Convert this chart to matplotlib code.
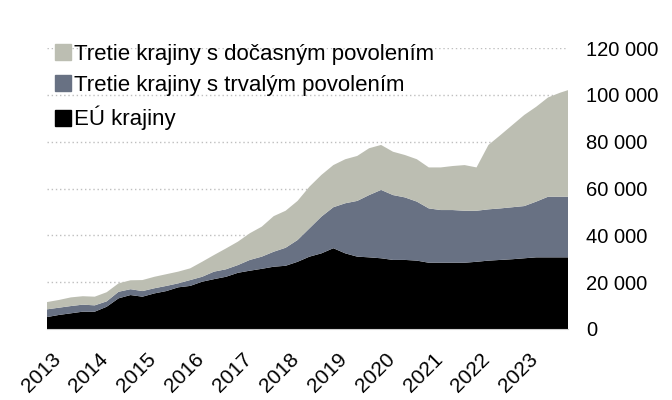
import numpy as np
import matplotlib.pyplot as plt
import matplotlib.transforms as mtrans
from matplotlib.patches import Patch
from matplotlib.ticker import FuncFormatter

plt.rcParams['font.family'] = ['Liberation Sans', 'DejaVu Sans']

# months since Jan 2013, sampled quarterly (last point = Dec 2023)
months = list(range(0, 130, 3)) + [131]

# thousands of people
eu = [5.1, 6.0, 6.7, 7.4, 7.4, 9.5, 13.1, 14.5, 13.8, 15.2, 16.2, 17.8,
      18.4, 20.2, 21.3, 22.3, 24.0, 24.9, 25.7, 26.6, 27.0, 28.7, 30.9, 32.3,
      34.5, 32.3, 30.9, 30.6, 30.2, 29.5, 29.5, 29.2, 28.3, 28.3, 28.3, 28.3,
      28.7, 29.2, 29.5, 29.8, 30.2, 30.6, 30.6, 30.6, 30.6]
trvale = [3.3, 3.1, 3.1, 3.0, 2.7, 2.3, 2.8, 2.5, 2.4, 2.2, 2.2, 1.7,
          2.5, 2.1, 3.2, 3.2, 3.3, 4.6, 5.2, 6.4, 7.7, 9.3, 12.1, 15.7,
          17.5, 21.4, 23.8, 26.6, 29.2, 27.7, 26.7, 25.2, 23.2, 22.5, 22.5, 22.2,
          21.8, 21.9, 22.0, 22.2, 22.3, 23.8, 25.9, 25.9, 25.9]
docasne = [3.1, 3.3, 3.7, 3.6, 3.7, 3.9, 3.6, 3.8, 4.7, 4.9, 5.0, 5.0,
           5.0, 6.4, 7.1, 8.9, 10.0, 11.4, 12.8, 15.2, 15.8, 16.7, 17.8, 17.8,
           18.0, 18.8, 19.2, 20.0, 19.2, 18.5, 18.1, 18.1, 17.5, 18.2, 18.8, 19.5,
           18.5, 27.5, 31.3, 35.1, 38.9, 40.5, 42.4, 44.4, 45.5]

labels = ["Tretie krajiny s dočasným povolením",
          "Tretie krajiny s trvalým povolením",
          "EÚ krajiny"]
years = list(range(2013, 2024))

c_doc = "#BCBEB2"
c_trv = "#687183"
c_eu = "#000000"

x = 2013 + np.array(months) / 12
y = np.vstack([eu, trvale, docasne]) * 1000

fig = plt.figure(figsize=(6.72, 4.0), dpi=100)
ax = fig.add_axes([47 / 672, 1 - 329 / 400, 521 / 672, 281 / 400])

ax.stackplot(x, y, colors=[c_eu, c_trv, c_doc], linewidth=0)

ax.set_xlim(x[0], x[-1])
ax.set_ylim(0, 120000)
ax.set_yticks(np.arange(0, 120001, 20000))
ax.yaxis.set_major_formatter(FuncFormatter(lambda v, p: f"{v:,.0f}".replace(",", " ")))
ax.yaxis.tick_right()
ax.tick_params(axis="y", length=0, pad=13, labelsize=14.5)
for t in ax.get_yticklabels():
    t.set_horizontalalignment("left")

ax.set_xticks(years)
ax.set_xticklabels([str(yr) for yr in years], rotation=45, ha="right",
                   rotation_mode="anchor", fontsize=15)
ax.tick_params(axis="x", length=0, pad=15)
# nudge the year labels a few pixels to the right, like the original
off = mtrans.ScaledTranslation(4 / 100, 0, fig.dpi_scale_trans)
for t in ax.get_xticklabels():
    t.set_transform(t.get_transform() + off)

ax.set_axisbelow(True)
ax.grid(axis="y", linestyle=(0, (1, 2)), color="#BFBFBF", linewidth=1)
for s in ["top", "left", "right"]:
    ax.spines[s].set_visible(False)
ax.spines["bottom"].set_color("#D0D0D0")

handles = [Patch(color=c_doc), Patch(color=c_trv), Patch(color=c_eu)]
ax.legend(handles, labels, loc="upper left", bbox_to_anchor=(55 / 672, 1 - 44 / 400),
          bbox_transform=fig.transFigure, frameon=False, fontsize=16,
          handlelength=0.7, handleheight=0.7, handletextpad=0.15,
          labelspacing=0.45, borderpad=0, borderaxespad=0)

fig.savefig("out.png", dpi=100)
